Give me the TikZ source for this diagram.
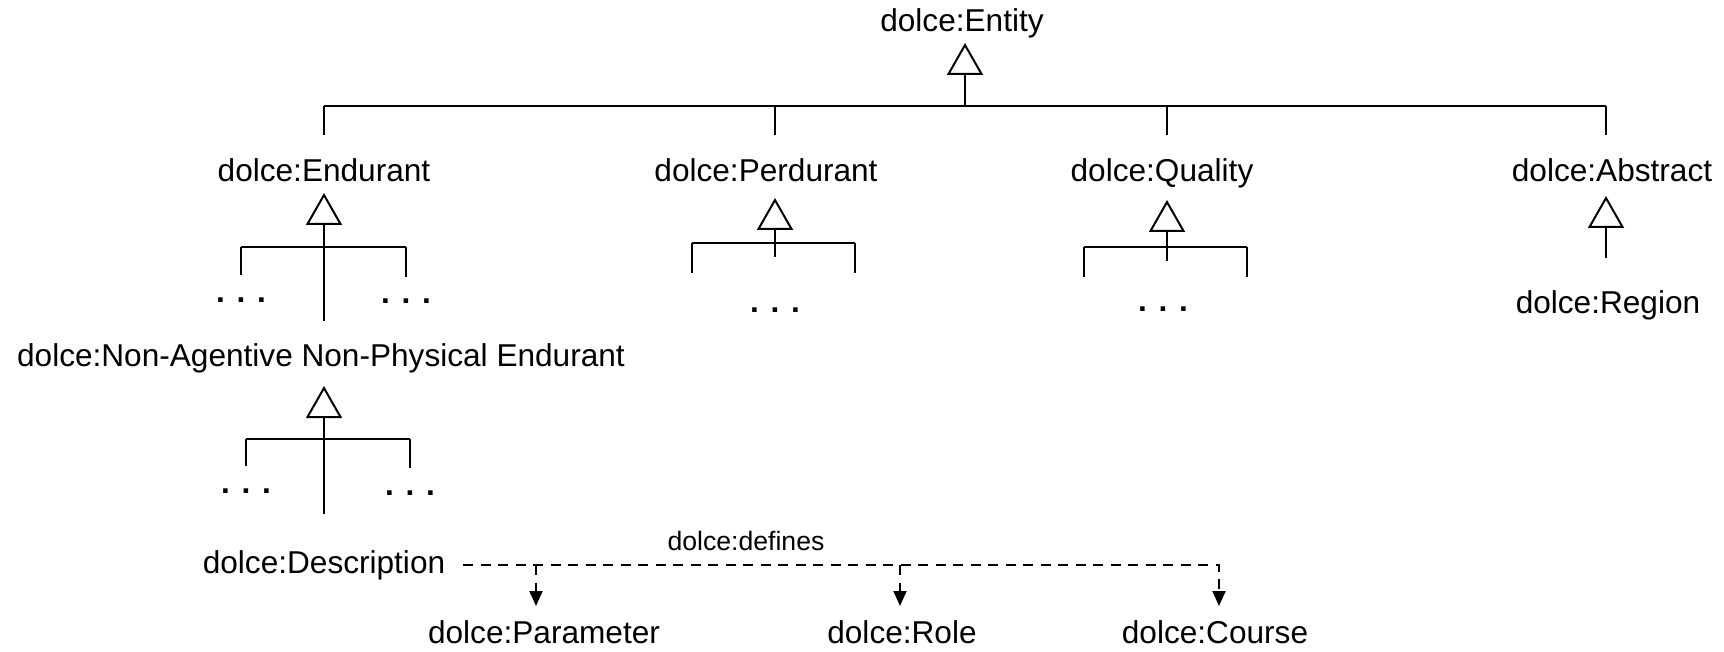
\documentclass[tikz,border=0pt]{standalone}
\usepackage{fontspec}
\setmainfont{Liberation Sans}
\usetikzlibrary{arrows.meta}

\begin{document}
\begin{tikzpicture}[x=0.5pt, y=-0.5pt, line width=1pt,
    cls/.style={anchor=base, inner sep=1pt, text height=12pt, text depth=4pt,
                font=\fontsize{15.8pt}{18pt}\selectfont},
    more/.style={cls, font=\fontsize{15.8pt}{18pt}\selectfont\bfseries},
    isa/.style={-{Triangle[open, width=18pt, length=16pt]}},
    dep/.style={dash pattern=on 5pt off 3.75pt, -{Triangle[width=6.5pt, length=7.5pt]}}]
  \useasboundingbox (0,0) rectangle (1724,652);
  % Classes
  \node[cls] (entity)      at (962,32)   {dolce:Entity};
  \node[cls] (endurant)    at (324,182)  {dolce:Endurant};
  \node[cls] (perdurant)   at (766,182)  {dolce:Perdurant};
  \node[cls] (quality)     at (1162,182) {dolce:Quality};
  \node[cls] (abstract)    at (1612,182) {dolce:Abstract};
  \node[cls] (region)      at (1608,314) {dolce:Region};
  \node[cls] (nonagentive) at (321,366)  {dolce:Non-Agentive Non-Physical Endurant};
  \node[cls] (description) at (324,573)  {dolce:Description};
  \node[cls] (parameter)   at (544,643)  {dolce:Parameter};
  \node[cls] (role)        at (902,643)  {dolce:Role};
  \node[cls] (course)      at (1215,643) {dolce:Course};
  % Elided subclasses
  \node[more] (end-l) at (241,302)  {. . .};
  \node[more] (end-r) at (406,304)  {. . .};
  \node[more] (per-d) at (775,313)  {. . .};
  \node[more] (qua-d) at (1163,312) {. . .};
  \node[more] (nae-l) at (246,493)  {. . .};
  \node[more] (nae-r) at (410,495)  {. . .};
  % Hubs of the generalisation trees
  \coordinate (top-hub) at (965,106);
  \coordinate (end-hub) at (324,247);
  \coordinate (per-hub) at (775,243);
  \coordinate (qua-hub) at (1167,247);
  \coordinate (abs-hub) at (1606,106);
  \coordinate (nae-hub) at (324,439);
  \coordinate (per-l) at (692,243);
  \coordinate (per-r) at (855,243);
  \coordinate (qua-l) at (1084,247);
  \coordinate (qua-r) at (1247,247);
  % Drop points of the defines link
  \coordinate (par-x) at (536,0);
  \coordinate (rol-x) at (900,0);
  \coordinate (cou-x) at (1219,0);
  % Entity
  \draw[isa] (top-hub) -- (top-hub |- entity.south);
  \draw (end-hub |- top-hub) -- (abs-hub |- top-hub);
  \draw[shorten >=10pt] (end-hub |- top-hub) -- (end-hub |- endurant.north);
  \draw[shorten >=10pt] (per-hub |- top-hub) -- (per-hub |- perdurant.north);
  \draw[shorten >=10pt] (qua-hub |- top-hub) -- (qua-hub |- quality.north);
  \draw[shorten >=10pt] (abs-hub) -- (abs-hub |- abstract.north);
  % Endurant
  \draw[isa, shorten <=9pt] (end-hub |- nonagentive.north) -- (endurant.south);
  \draw (end-l |- end-hub) -- (end-r |- end-hub);
  \draw (end-l |- end-hub) -- (end-l.north);
  \draw (end-r |- end-hub) -- (end-r.north);
  % Non-Agentive Non-Physical Endurant
  \draw[isa, shorten <=16pt, shorten >=4.5pt] (nae-hub |- description.north) -- (nae-hub |- nonagentive.south);
  \draw (nae-l |- nae-hub) -- (nae-r |- nae-hub);
  \draw (nae-l |- nae-hub) -- (nae-l.north);
  \draw (nae-r |- nae-hub) -- (nae-r.north);
  % Perdurant
  \draw[isa, shorten <=14.5pt, shorten >=2.5pt] (per-hub |- per-d.north) -- (per-hub |- perdurant.south);
  \draw (per-l) -- (per-r);
  \draw (per-l) -- ++(0,30);
  \draw (per-r) -- ++(0,30);
  % Quality
  \draw[isa, shorten <=12pt, shorten >=3.5pt] (qua-hub |- qua-d.north) -- (qua-hub |- quality.south);
  \draw (qua-l) -- (qua-r);
  \draw (qua-l) -- ++(0,30);
  \draw (qua-r) -- ++(0,30);
  % Abstract
  \draw[isa, shorten <=14.5pt, shorten >=1.5pt] (abs-hub |- region.north) -- (abs-hub |- abstract.south);
  % dolce:defines
  \node[anchor=base, font=\fontsize{13.3pt}{15pt}\selectfont] (defines) at (746,550) {dolce:defines};
  \draw[dep, shorten <=7.5pt, shorten >=5pt] (description.east) -| (cou-x |- course.north);
  \draw[dep, shorten >=5pt] (par-x |- description.east) -- (par-x |- parameter.north);
  \draw[dep, shorten >=5pt] (rol-x |- description.east) -- (rol-x |- role.north);
\end{tikzpicture}
\end{document}
